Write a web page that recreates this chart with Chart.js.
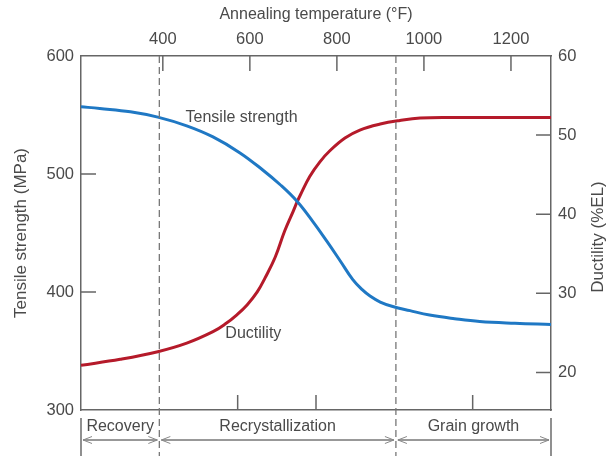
<!DOCTYPE html>
<html>
<head>
<meta charset="utf-8">
<script src="https://cdn.jsdelivr.net/npm/chart.js"></script>
<style>
  body { margin: 0; background: #fff; }
  #wrap { width: 608px; height: 456px; }
</style>
</head>
<body>
<div id="wrap"><canvas id="myChart" width="608" height="456"></canvas></div>
<script>
// annealing temperature in degC (bottom scale, its labels are cropped off)
var tsTemp = [100, 124, 163, 198, 235, 268.5, 303, 332, 354, 376, 396, 414, 431, 447, 459, 469, 482, 498, 520, 545, 577, 609, 654, 700];
// tensile strength, MPa
var tensile = [557.0, 555.5, 552.7, 548.2, 540.8, 531.4, 517.9, 503.4, 491.1, 476.7, 459.7, 442.9, 426.3, 410.5, 402, 396.6, 391.5, 387.7, 384.2, 380.5, 377.4, 375.0, 373.5, 372.5];

var duTemp = [100, 150, 198, 235, 268.5, 284, 299, 312, 325, 335, 348, 360, 371, 376, 380, 392, 405, 418, 437, 456, 482, 507, 533, 571, 700];
// ductility, %EL
var ductility = [20.9, 21.66, 22.62, 23.7, 25.15, 26.11, 27.29, 28.53, 30.18, 31.95, 34.59, 37.88, 40.4, 41.58, 42.43, 44.77, 46.62, 48.05, 49.63, 50.64, 51.4, 51.85, 52.16, 52.23, 52.23];

var fTicks = [400, 600, 800, 1000, 1200];
var cTicks = [300, 400, 600];
var mpaTicks = [300, 400, 500, 600];
var elTicks = [20, 30, 40, 50, 60];

var regions = ["Recovery", "Recrystallization", "Grain growth"];
var regionBounds = [100, 200, 502, 700];

var labelTS = {text: "Tensile strength", x: 305, y: 548};
var labelDu = {text: "Ductility", x: 320, y: 365};

var fontFam = "'Liberation Sans', Arial, sans-serif";
var txtColor = "#4a4a4a";
var axisColor = "#666";

function toPts(xs, ys) {
  return xs.map((x, i) => ({x: x, y: ys[i]}));
}

var extras = {
  id: "extras",
  afterDraw(chart) {
    const ctx = chart.ctx;
    const a = chart.chartArea;
    const sx = chart.scales.x, sf = chart.scales.xF, sy = chart.scales.y, sy2 = chart.scales.y2;
    ctx.save();
    // inward ticks
    ctx.strokeStyle = axisColor;
    ctx.lineWidth = 1.5;
    ctx.beginPath();
    fTicks.forEach(v => { const p = sf.getPixelForValue(v); ctx.moveTo(p, a.top); ctx.lineTo(p, a.top + 15); });
    cTicks.forEach(v => { const p = sx.getPixelForValue(v); ctx.moveTo(p, a.bottom); ctx.lineTo(p, a.bottom - 15); });
    mpaTicks.slice(1, -1).forEach(v => { const p = sy.getPixelForValue(v); ctx.moveTo(a.left, p); ctx.lineTo(a.left + 15, p); });
    elTicks.slice(0, -1).forEach(v => { const p = sy2.getPixelForValue(v); ctx.moveTo(a.right, p); ctx.lineTo(a.right - 15, p); });
    ctx.stroke();

    // dashed boundaries
    ctx.strokeStyle = "#777";
    ctx.lineWidth = 1.3;
    ctx.setLineDash([7, 4]);
    ctx.beginPath();
    regionBounds.slice(1, -1).forEach(v => { const p = sx.getPixelForValue(v); ctx.moveTo(p, a.top); ctx.lineTo(p, chart.height); });
    ctx.stroke();
    ctx.setLineDash([]);

    // outer vertical lines below axis
    ctx.strokeStyle = "#555";
    ctx.lineWidth = 1.3;
    ctx.beginPath();
    [regionBounds[0], regionBounds[regionBounds.length - 1]].forEach(v => {
      const p = sx.getPixelForValue(v); ctx.moveTo(p, a.bottom + 8); ctx.lineTo(p, chart.height);
    });
    ctx.stroke();

    // arrows + region names
    const ay = a.bottom + 30;
    ctx.font = "16px " + fontFam;
    ctx.fillStyle = txtColor;
    ctx.textAlign = "center";
    ctx.textBaseline = "middle";
    for (let i = 0; i < regions.length; i++) {
      const x0 = sx.getPixelForValue(regionBounds[i]) + 2;
      const x1 = sx.getPixelForValue(regionBounds[i + 1]) - 2;
      ctx.strokeStyle = "#333";
      ctx.lineWidth = 1;
      ctx.beginPath(); ctx.moveTo(x0, ay); ctx.lineTo(x1, ay); ctx.stroke();
      ctx.strokeStyle = "#888";
      ctx.beginPath();
      ctx.moveTo(x0 + 9, ay - 3.5); ctx.lineTo(x0, ay); ctx.lineTo(x0 + 9, ay + 3.5);
      ctx.moveTo(x1 - 9, ay - 3.5); ctx.lineTo(x1, ay); ctx.lineTo(x1 - 9, ay + 3.5);
      ctx.stroke();
      ctx.fillText(regions[i], (x0 + x1) / 2, a.bottom + 17);
    }

    // curve labels
    [labelTS, labelDu].forEach(l => {
      ctx.fillText(l.text, sx.getPixelForValue(l.x), sy.getPixelForValue(l.y));
    });

    // right axis title reads bottom to top
    ctx.save();
    ctx.translate(598, (a.top + a.bottom) / 2 + 4);
    ctx.rotate(-Math.PI / 2);
    ctx.font = "17px " + fontFam;
    ctx.fillText("Ductility (%EL)", 0, 0);
    ctx.restore();
    ctx.restore();
  }
};

function axisTitle(text, size, pad) {
  return {display: true, text: text, color: txtColor, font: {family: fontFam, size: size}, padding: pad};
}
var tickFont = {family: fontFam, size: 16.5};

var myChart = new Chart("myChart", {
  type: "line",
  data: {
    datasets: [{
      label: "Tensile strength",
      data: toPts(tsTemp, tensile),
      borderColor: "#1f78c4",
      borderWidth: 3,
      pointRadius: 0,
      tension: 0.4,
      xAxisID: "x",
      yAxisID: "y"
    }, {
      label: "Ductility",
      data: toPts(duTemp, ductility),
      borderColor: "#b51a2a",
      borderWidth: 3,
      pointRadius: 0,
      tension: 0.4,
      xAxisID: "x",
      yAxisID: "y2"
    }]
  },
  options: {
    responsive: false,
    animation: false,
    layout: {padding: 0},
    plugins: {legend: {display: false}, tooltip: {enabled: false}},
    scales: {
      x: {
        type: "linear", position: "bottom", min: 100, max: 700,
        ticks: {display: false},
        grid: {display: false, drawTicks: false},
        border: {display: true, color: axisColor, width: 1.5},
        afterFit: s => { s.height = 46; }
      },
      xF: {
        type: "linear", position: "top", min: 212, max: 1292,
        afterBuildTicks: s => { s.ticks = fTicks.map(v => ({value: v})); },
        ticks: {color: txtColor, font: tickFont, padding: 7, maxRotation: 0, callback: v => String(v)},
        grid: {display: false, drawTicks: false},
        border: {display: true, color: axisColor, width: 1.5},
        title: axisTitle("Annealing temperature (°F)", 16, {top: 5, bottom: 4}),
        afterFit: s => { s.height = 56; }
      },
      y: {
        type: "linear", position: "left", min: 300, max: 600,
        afterBuildTicks: s => { s.ticks = mpaTicks.map(v => ({value: v})); },
        ticks: {color: txtColor, font: tickFont, padding: 7, callback: v => String(v)},
        grid: {display: false, drawTicks: false},
        border: {display: true, color: axisColor, width: 1.5},
        title: axisTitle("Tensile strength (MPa)", 17, {top: 11, bottom: 4}),
        afterFit: s => { s.width = 81; }
      },
      y2: {
        type: "linear", position: "right", min: 15.25, max: 60,
        afterBuildTicks: s => { s.ticks = elTicks.map(v => ({value: v})); },
        ticks: {color: txtColor, font: tickFont, padding: 7, callback: v => String(v)},
        grid: {display: false, drawTicks: false},
        border: {display: true, color: axisColor, width: 1.5},
        afterFit: s => { s.width = 57; }
      }
    }
  },
  plugins: [extras]
});
</script>
</body>
</html>
